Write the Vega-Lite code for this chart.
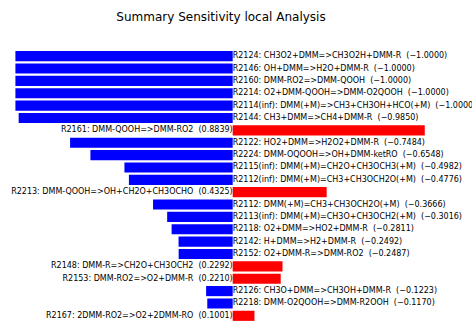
{
  "$schema": "https://vega.github.io/schema/vega-lite/v6.json",
  "width": 472,
  "height": 272,
  "autosize": "none",
  "padding": {"left": 0, "top": 50, "right": 0, "bottom": 0},
  "background": "white",
  "title": {
    "text": "Summary Sensitivity local Analysis",
    "font": "DejaVu Sans",
    "fontSize": 12,
    "fontWeight": "normal",
    "color": "black",
    "anchor": "middle",
    "dx": -15,
    "offset": 26
  },
  "data": {
    "values": [
      {"rxn": "R2124: CH3O2+DMM=>CH3O2H+DMM-R", "s": -1.0},
      {"rxn": "R2146: OH+DMM=>H2O+DMM-R", "s": -1.0},
      {"rxn": "R2160: DMM-RO2=>DMM-QOOH", "s": -1.0},
      {"rxn": "R2214: O2+DMM-QOOH=>DMM-O2QOOH", "s": -1.0},
      {"rxn": "R2114(inf): DMM(+M)=>CH3+CH3OH+HCO(+M)", "s": -1.0},
      {"rxn": "R2144: CH3+DMM=>CH4+DMM-R", "s": -0.985},
      {"rxn": "R2161: DMM-QOOH=>DMM-RO2", "s": 0.8839},
      {"rxn": "R2122: HO2+DMM=>H2O2+DMM-R", "s": -0.7484},
      {"rxn": "R2224: DMM-OQOOH=>OH+DMM-ketRO", "s": -0.6548},
      {"rxn": "R2115(inf): DMM(+M)=CH2O+CH3OCH3(+M)", "s": -0.4982},
      {"rxn": "R2112(inf): DMM(+M)=CH3+CH3OCH2O(+M)", "s": -0.4776},
      {"rxn": "R2213: DMM-QOOH=>OH+CH2O+CH3OCHO", "s": 0.4325},
      {"rxn": "R2112: DMM(+M)=CH3+CH3OCH2O(+M)", "s": -0.3666},
      {"rxn": "R2113(inf): DMM(+M)=CH3O+CH3OCH2(+M)", "s": -0.3016},
      {"rxn": "R2118: O2+DMM=>HO2+DMM-R", "s": -0.2811},
      {"rxn": "R2142: H+DMM=>H2+DMM-R", "s": -0.2492},
      {"rxn": "R2152: O2+DMM-R=>DMM-RO2", "s": -0.2487},
      {"rxn": "R2148: DMM-R=>CH2O+CH3OCH2", "s": 0.2292},
      {"rxn": "R2153: DMM-RO2=>O2+DMM-R", "s": 0.221},
      {"rxn": "R2126: CH3O+DMM=>CH3OH+DMM-R", "s": -0.1223},
      {"rxn": "R2218: DMM-O2QOOH=>DMM-R2OOH", "s": -0.117},
      {"rxn": "R2167: 2DMM-RO2=>O2+2DMM-RO", "s": 0.1001}
    ]
  },
  "transform": [
    {"calculate": "datum.rxn + ' \u00a0(' + format(datum.s, '.4f') + ')'", "as": "label"}
  ],
  "encoding": {
    "y": {
      "field": "rxn",
      "type": "nominal",
      "sort": null,
      "axis": null,
      "scale": {"paddingInner": 0.18, "paddingOuter": 0.09}
    },
    "x": {
      "field": "s",
      "type": "quantitative",
      "axis": null,
      "scale": {"domain": [-1.0709, 1.1013], "nice": false, "zero": false}
    }
  },
  "layer": [
    {
      "mark": {"type": "bar", "orient": "horizontal"},
      "encoding": {
        "x2": {"datum": 0},
        "color": {
          "condition": {"test": "datum.s < 0", "value": "#0000ff"},
          "value": "#ff0000"
        }
      }
    },
    {
      "transform": [{"filter": "datum.s < 0"}],
      "mark": {"type": "text", "align": "left", "baseline": "middle", "font": "DejaVu Sans", "fontSize": 8, "color": "black"},
      "encoding": {"x": {"datum": 0}, "text": {"field": "label"}}
    },
    {
      "transform": [{"filter": "datum.s >= 0"}],
      "mark": {"type": "text", "align": "right", "baseline": "middle", "font": "DejaVu Sans", "fontSize": 8, "color": "black"},
      "encoding": {"x": {"datum": 0}, "text": {"field": "label"}}
    }
  ],
  "config": {"view": {"stroke": null}}
}
